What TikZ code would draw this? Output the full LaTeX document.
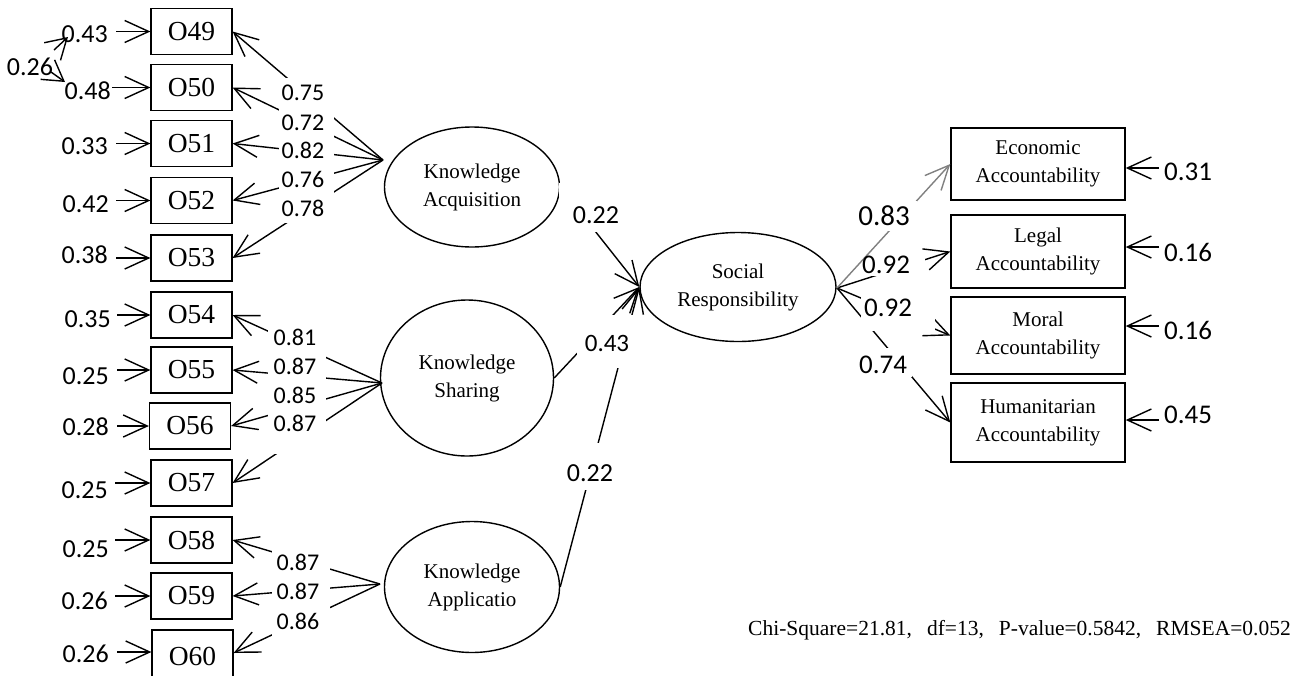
\documentclass[tikz,border=0pt]{standalone}
\usepackage{fontspec}
\setmainfont{Liberation Serif}
\newfontfamily\numfont{Carlito}
\usetikzlibrary{arrows.meta,shapes.geometric}
\definecolor{lgray}{RGB}{128,128,128}
\begin{document}
\begin{tikzpicture}[x=1pt,y=-1pt,
  obs/.style={draw, line width=1.2pt, minimum width=81pt, minimum height=46pt, inner sep=0pt, font=\fontsize{27.5}{30}\selectfont},
  lat/.style={draw, ellipse, line width=1.4pt, inner sep=0pt, align=center, font=\fontsize{21}{28}\selectfont},
  rbox/.style={draw, line width=1.4pt, minimum width=174pt, inner sep=0pt, align=center, font=\fontsize{21}{28}\selectfont},
  enum/.style={inner sep=0pt, font=\numfont\fontsize{26}{28}\selectfont},
  lnum/.style={inner sep=0pt, font=\numfont\fontsize{24}{28}\selectfont},
  rnum/.style={inner sep=0pt, font=\numfont\fontsize{27}{28}\selectfont},
  arr/.style={line width=1.4pt, -{Straight Barb[length=24pt,width=22pt]}},
  carr/.style={line width=1.4pt, -{Straight Barb[length=20pt,width=24pt]}},
  mask/.style={fill=white}]
\useasboundingbox (0,0) rectangle (1295,675);

% observed indicators
\node[obs] (O49) at (191.5,31.5) {O49};
\node[obs] (O50) at (191.5,87.5) {O50};
\node[obs] (O51) at (191.5,143.5) {O51};
\node[obs] (O52) at (191.5,200.5) {O52};
\node[obs] (O53) at (191.5,258) {O53};
\node[obs] (O54) at (191.5,315) {O54};
\node[obs] (O55) at (191.5,370) {O55};
\node[obs] (O56) at (190,426) {O56};
\node[obs] (O57) at (191.5,483) {O57};
\node[obs] (O58) at (191.5,540) {O58};
\node[obs] (O59) at (191.5,596) {O59};
\node[obs, minimum height=52pt] (O60) at (192.5,656) {O60};

% latent variables
\node[lat, minimum width=175pt, minimum height=120pt] (KA) at (472,187) {Knowledge\\Acquisition};
\node[lat, minimum width=173pt, minimum height=156pt] (KS) at (467,378) {Knowledge\\Sharing};
\node[lat, minimum width=175pt, minimum height=131pt] (KAp) at (472,587) {Knowledge\\Applicatio};
\node[lat, minimum width=196pt, minimum height=109pt] (SR) at (738,287) {Social\\Responsibility};

% right indicators
\node[rbox, minimum height=72pt] (Econ) at (1038,164) {Economic\\Accountability};
\node[rbox, minimum height=73pt] (Legal) at (1038,251.5) {Legal\\Accountability};
\node[rbox, minimum height=77pt] (Moral) at (1038,335.5) {Moral\\Accountability};
\node[rbox, minimum height=79pt] (Hum) at (1038,422.5) {Humanitarian\\Accountability};

% convergence points
\coordinate (kaP) at (383,160);
\coordinate (ksP) at (382,383);
\coordinate (kapP) at (380,584);
\coordinate (srP) at (837,288);

% loadings left
\foreach \o in {O49,O50,O51,O52,O53} \draw[arr] (kaP) -- (\o.east);
\foreach \o in {O54,O55,O56,O57} \draw[arr] (ksP) -- (\o.east);
\foreach \o in {O58,O59} \draw[arr] (kapP) -- (\o.east);
\draw[arr] (kapP) -- ([yshift=3pt]O60.east);

% structural paths
\draw[arr] (KA.east) -- (SR.west);
\draw[arr] (KS.east) -- (SR.west);
\draw[arr] (KAp.east) -- (SR.west);

% loadings right
\draw[arr] (srP) -- (Legal.west);
\draw[arr] (srP) -- (Moral.west);
\draw[arr] (srP) -- (Hum.west);

% error terms left
\foreach \o/\x in {O49/116,O50/112,O51/116,O52/116,O53/116,O54/117,O55/117,O56/117,O57/115,O58/115,O59/115} {
  \coordinate (e\o) at (\x, 0 |- \o.west);
  \draw[arr] (e\o) -- (\o.west);
}
\coordinate (eO60) at (117,652);
\draw[arr] (eO60) -- (eO60 -| O60.west);

% error terms right
\coordinate (rEcon) at (1159,168);
\coordinate (rLegal) at (1159,247);
\coordinate (rMoral) at (1159,326);
\coordinate (rHum) at (1159,420);
\foreach \b in {Econ,Legal,Moral,Hum} \draw[arr] (r\b) -- (r\b -| \b.east);

% correlated errors
\coordinate (c1) at (54,50);
\coordinate (c1t) at (68,37);
\coordinate (c2) at (51,72);
\coordinate (c2t) at (65,82);
\draw[carr] (c1) -- (c1t);
\draw[carr] (c2) -- (c2t);

% label masks
\fill[mask] (279,78) rectangle (334,223);
\fill[mask] (268,322) rectangle (326,454);
\fill[mask] (272,548) rectangle (330,636);
\fill[mask] (559,183) rectangle (626,232);
\fill[mask] (577,315) rectangle (636,368);
\fill[mask] (560,443) rectangle (620,490);
\fill[mask] (861,255) rectangle (925,276);
\fill[mask] (861,290) rectangle (935,331);
\fill[mask] (850,348) rectangle (912,377);
\draw[arr, draw=lgray] (srP) -- (Econ.west);
\fill[mask] (850,201) rectangle (917,231);

% error labels left
\node[enum] (l26) at (30,67) {0.26};
\node[enum, anchor=east] (l49) at (108,34) {0.43};
\node[enum, anchor=east] (l50) at (111,91) {0.48};
\node[enum, anchor=east] (l51) at (108,146) {0.33};
\node[enum, anchor=east] (l52) at (109,204) {0.42};
\node[enum, anchor=east] (l53) at (108,255) {0.38};
\node[enum, anchor=east] (l54) at (111,319) {0.35};
\node[enum, anchor=east] (l55) at (109,376) {0.25};
\node[enum, anchor=east] (l56) at (109,427) {0.28};
\node[enum, anchor=east] (l57) at (108,490) {0.25};
\node[enum, anchor=east] (l58) at (109,549) {0.25};
\node[enum, anchor=east] (l59) at (108,601) {0.26};
\node[enum, anchor=east] (l60) at (109,654) {0.26};

% loading labels left
\node[lnum] (k49) at (303,92.5) {0.75};
\node[lnum] (k50) at (303,122.5) {0.72};
\node[lnum] (k51) at (303,150.5) {0.82};
\node[lnum] (k52) at (303,179.5) {0.76};
\node[lnum] (k53) at (303,208) {0.78};
\node[lnum] (k54) at (295,337) {0.81};
\node[lnum] (k55) at (295,366) {0.87};
\node[lnum] (k56) at (295,395) {0.85};
\node[lnum] (k57) at (295,423) {0.87};
\node[lnum] (k58) at (298,562) {0.87};
\node[lnum] (k59) at (298,591) {0.87};
\node[lnum] (k60) at (298,621) {0.86};

% structural labels
\node[rnum, font=\numfont\fontsize{26}{28}\selectfont] (s1) at (596,215) {0.22};
\node[rnum, font=\numfont\fontsize{25}{28}\selectfont] (s2) at (607,343) {0.43};
\node[rnum, font=\numfont\fontsize{26}{28}\selectfont] (s3) at (590,473) {0.22};

% right loading labels
\node[rnum, font=\numfont\fontsize{29}{30}\selectfont] (m1) at (884,216) {0.83};
\node[rnum] (m2) at (886,265) {0.92};
\node[rnum] (m3) at (888,308) {0.92};
\node[rnum] (m4) at (883,365) {0.74};

% right error labels
\node[rnum, anchor=west] (q1) at (1164,172) {0.31};
\node[rnum, anchor=west] (q2) at (1164,252) {0.16};
\node[rnum, anchor=west] (q3) at (1164,330) {0.16};
\node[rnum, anchor=west] (q4) at (1164,415) {0.45};

% fit statistics
\node[inner sep=0pt, anchor=base west, font=\fontsize{21.5}{25}\selectfont] (fit) at (748,635)
  {Chi-Square=21.81,\hspace{15pt}df=13,\hspace{15pt}P-value=0.5842,\hspace{15pt}RMSEA=0.052};
\end{tikzpicture}
\end{document}
